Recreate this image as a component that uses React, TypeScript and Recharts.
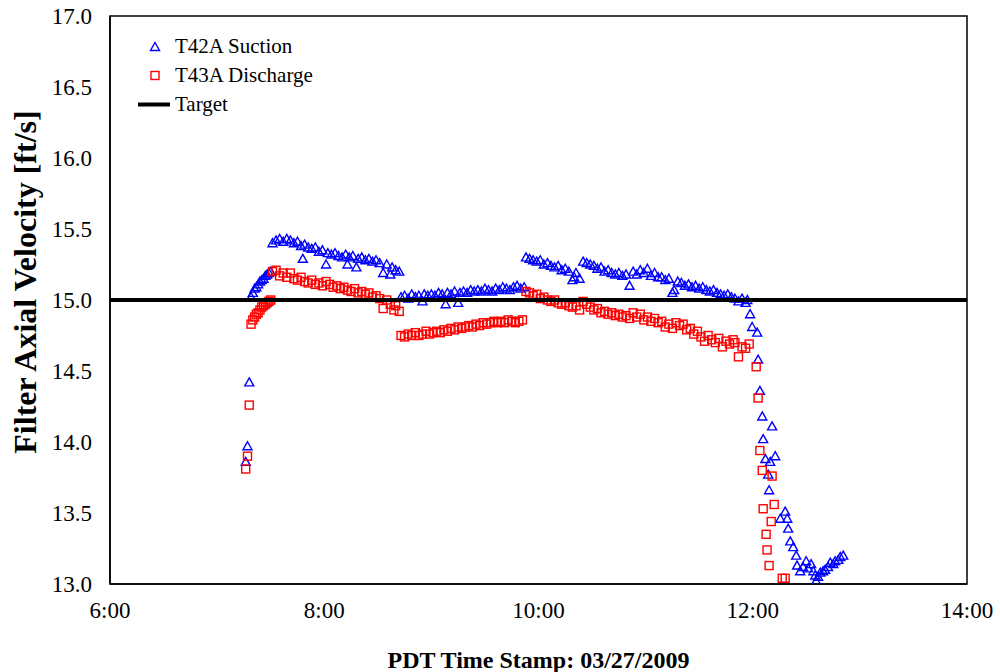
import { ScatterChart, Scatter, XAxis, YAxis, ReferenceArea, Legend } from 'recharts';

// T42A Suction - time stamps (PDT) and filter axial velocity [ft/s]
const suctionTimes = [
  '7:16', '7:17', '7:18', '7:19', '7:20', '7:21', '7:22', '7:23', '7:24', '7:25', '7:26', '7:27', '7:28', '7:29', '7:30',
  '7:31', '7:33', '7:35', '7:37', '7:39', '7:41', '7:43', '7:45', '7:47', '7:48', '7:49', '7:51', '7:53', '7:55', '7:57', '7:59',
  '8:01', '8:02', '8:04', '8:06', '8:08', '8:10', '8:12', '8:13', '8:14', '8:16', '8:18', '8:19', '8:21', '8:23', '8:25', '8:27',
  '8:29', '8:31', '8:33', '8:35', '8:37', '8:38', '8:40', '8:42',
  '8:43', '8:45', '8:47', '8:49', '8:51', '8:53', '8:55', '8:56', '8:58', '9:00', '9:02', '9:04', '9:06', '9:08', '9:09', '9:11',
  '9:13', '9:15', '9:16', '9:18', '9:20', '9:22', '9:24', '9:26', '9:28', '9:30', '9:32', '9:34', '9:36', '9:38', '9:40', '9:42',
  '9:44', '9:46', '9:48', '9:50', '9:52',
  '9:53', '9:55', '9:57', '9:59', '10:01', '10:03', '10:05', '10:07', '10:09', '10:11', '10:13', '10:15', '10:17', '10:19', '10:20',
  '10:21', '10:23', '10:25', '10:27', '10:29', '10:31', '10:33', '10:35', '10:37', '10:39', '10:41', '10:43', '10:45', '10:47', '10:49',
  '10:51', '10:53', '10:55', '10:57', '10:59', '11:01', '11:03', '11:05', '11:07', '11:09', '11:11', '11:13', '11:15', '11:16', '11:18',
  '11:20', '11:22', '11:24', '11:26', '11:28', '11:30', '11:32', '11:34', '11:36', '11:38', '11:40', '11:42', '11:44', '11:46', '11:48',
  '11:50', '11:52', '11:54', '11:56', '11:57',
  '11:58:30', '11:59:40', '12:02:30', '12:03', '12:04', '12:05:20', '12:05:50', '12:07:05', '12:08:40', '12:09:10', '12:09:45',
  '12:10:50', '12:12:35', '12:15:25', '12:18:10', '12:19:20', '12:19:50', '12:21', '12:22:40', '12:24:20', '12:24:50', '12:26:35',
  '12:28:10', '12:29:55', '12:31', '12:32:40', '12:33:55', '12:35', '12:35:30', '12:36:35', '12:37:50', '12:39:25', '12:40:35',
  '12:42:10', '12:43:25', '12:45:05', '12:46:10', '12:47:55', '12:49', '12:50:40',
];
const suctionValues = [
  13.86, 13.97, 14.42, 15.02, 15.05, 15.08, 15.09, 15.11, 15.13, 15.14, 15.15, 15.17, 15.18, 15.19, 15.2,
  15.4, 15.42, 15.43, 15.41, 15.43, 15.42, 15.4, 15.41, 15.38, 15.29, 15.39, 15.37, 15.36, 15.37, 15.34, 15.35,
  15.25, 15.33, 15.32, 15.33, 15.31, 15.3, 15.32, 15.25, 15.3, 15.31, 15.23, 15.29, 15.3, 15.28, 15.29, 15.27,
  15.28, 15.26, 15.19, 15.25, 15.18, 15.23, 15.21, 15.2,
  15.02, 15.03, 15.01, 15.04, 15.02, 15.03, 14.99, 15.04, 15.03, 15.04, 15.03, 15.05, 15.04, 14.97, 15.05, 15.04,
  15.06, 14.98, 15.05, 15.06, 15.05, 15.07, 15.06, 15.07, 15.06, 15.08, 15.07, 15.06, 15.08, 15.07, 15.09, 15.08,
  15.07, 15.09, 15.1, 15.08, 15.09,
  15.3, 15.29, 15.28, 15.27, 15.28, 15.25, 15.26, 15.24, 15.23, 15.24, 15.21, 15.22, 15.2, 15.14, 15.16,
  15.19, 15.15, 15.27, 15.26, 15.25, 15.24, 15.22, 15.23, 15.2, 15.21, 15.19, 15.18, 15.19, 15.17, 15.18,
  15.1, 15.2, 15.18, 15.21, 15.19, 15.22, 15.17, 15.19, 15.16, 15.16, 15.14, 15.15, 15.05, 15.07, 15.13,
  15.12, 15.1, 15.11, 15.09, 15.1, 15.08, 15.09, 15.07, 15.06, 15.07, 15.05, 15.04, 15.03, 15.04, 15.02,
  15.01, 14.99, 15.01, 14.98, 15.0,
  14.9, 14.81, 14.77, 14.58, 14.36, 14.18, 14.02, 13.88, 13.77, 13.66, 13.86,
  14.11, 13.9, 13.46, 13.51, 13.46, 13.39, 13.3, 13.26, 13.2, 13.13, 13.09,
  13.12, 13.16, 13.11, 13.14, 13.09, 13.06, 13.02, 13.05, 13.08, 13.09, 13.1,
  13.12, 13.15, 13.14, 13.16, 13.17, 13.19, 13.2,
];

// T43A Discharge
const dischargeTimes = [
  '7:16', '7:17', '7:18', '7:19', '7:20', '7:21', '7:22', '7:23', '7:24', '7:25', '7:26', '7:27', '7:28', '7:29', '7:30',
  '7:31', '7:33', '7:35', '7:37', '7:39', '7:41', '7:43', '7:45', '7:47', '7:49', '7:51', '7:53', '7:55', '7:57', '7:59',
  '8:01', '8:03', '8:05', '8:07', '8:09', '8:11', '8:13', '8:15', '8:17', '8:19', '8:21', '8:23', '8:25', '8:27', '8:29',
  '8:31', '8:33', '8:35', '8:37', '8:39', '8:40', '8:42',
  '8:43', '8:45', '8:47', '8:49', '8:51', '8:53', '8:55', '8:57', '8:59', '9:01', '9:03', '9:05', '9:07', '9:09', '9:11',
  '9:13', '9:15', '9:17', '9:19', '9:21', '9:23', '9:25', '9:27', '9:29', '9:31', '9:33', '9:35', '9:37', '9:39', '9:41',
  '9:43', '9:45', '9:47', '9:49', '9:51',
  '9:53', '9:55', '9:57', '9:59', '10:01', '10:03', '10:05', '10:07', '10:09', '10:11', '10:13', '10:15', '10:17', '10:19', '10:21',
  '10:23', '10:25', '10:27', '10:29', '10:31', '10:33', '10:35', '10:37', '10:39', '10:41', '10:43', '10:45', '10:47', '10:49', '10:51',
  '10:53', '10:55', '10:57', '10:59', '11:01', '11:03', '11:05', '11:07', '11:09', '11:11', '11:13', '11:15', '11:17', '11:19', '11:21',
  '11:23', '11:25', '11:27', '11:29', '11:31', '11:33', '11:35', '11:37', '11:39', '11:41', '11:43', '11:45', '11:47', '11:49', '11:50',
  '11:52', '11:54', '11:56', '11:58',
  '12:01:55', '12:03', '12:04', '12:05:20', '12:05:50', '12:07:30', '12:08', '12:09:10', '12:10:20', '12:10:50', '12:12',
  '12:16:30', '12:18:10',
];
const dischargeValues = [
  13.81, 13.9, 14.26, 14.83, 14.86, 14.88, 14.9, 14.91, 14.93, 14.95, 14.96, 14.97, 14.98, 14.99, 15.0,
  15.2, 15.21, 15.17, 15.19, 15.16, 15.19, 15.15, 15.14, 15.16, 15.13, 15.12, 15.14, 15.11, 15.12, 15.1,
  15.13, 15.11, 15.09, 15.1, 15.08, 15.09, 15.07, 15.06, 15.08, 15.05, 15.06, 15.04, 15.05, 15.02, 15.03,
  15.01, 14.94, 15.0, 14.97, 14.93, 14.96, 14.92,
  14.75, 14.74, 14.76, 14.75, 14.77, 14.75, 14.76, 14.78, 14.76, 14.77, 14.78, 14.77, 14.79, 14.78, 14.8,
  14.79, 14.81, 14.8, 14.81, 14.82, 14.81, 14.83, 14.82, 14.84, 14.83, 14.84, 14.85, 14.84, 14.85, 14.84,
  14.86, 14.85, 14.84, 14.85, 14.86,
  15.06, 15.05, 15.03, 15.04, 15.01, 15.02, 15.0, 14.99, 15.0, 14.98, 14.97, 14.98, 14.96, 14.95, 14.96,
  14.93, 14.99, 14.97, 14.95, 14.93, 14.94, 14.91, 14.92, 14.9, 14.91, 14.89, 14.9, 14.88, 14.89, 14.87,
  14.91, 14.88, 14.9, 14.86, 14.88, 14.85, 14.87, 14.84, 14.85, 14.81, 14.83, 14.8, 14.84, 14.82, 14.83,
  14.79, 14.8, 14.76, 14.78, 14.74, 14.71, 14.75, 14.72, 14.7, 14.73, 14.67, 14.71, 14.69, 14.72, 14.7,
  14.6, 14.67, 14.66, 14.69,
  14.53, 14.31, 13.94, 13.8, 13.53, 13.35, 13.24, 13.13, 13.44, 13.76, 13.56,
  13.04, 13.04,
];

const targetTimes = ['6:00', '14:00'];
const targetValues = [15.0, 15.0];

const hourTicks = [6, 8, 10, 12, 14];
const halfHourTicks = [6, 6.5, 7, 7.5, 8, 8.5, 9, 9.5, 10, 10.5, 11, 11.5, 12, 12.5, 13, 13.5, 14];
const valueTicks = [13, 13.5, 14, 14.5, 15, 15.5, 16, 16.5, 17];
const minorValueTicks = Array.from({ length: 41 }, (_, i) => 13 + i * 0.1);

const FONT = "'Liberation Serif', 'Times New Roman', serif";

const toHours = (t: string) => {
  const [h, m, s = '0'] = t.split(':');
  return Number(h) + Number(m) / 60 + Number(s) / 3600;
};
const zip = (times: string[], values: number[]) => times.map((t, i) => ({ time: toHours(t), value: values[i] }));

const suctionData = zip(suctionTimes, suctionValues);
const dischargeData = zip(dischargeTimes, dischargeValues);
const targetData = zip(targetTimes, targetValues);

const Triangle = (props: any) => {
  const { cx, cy } = props;
  return (
    <polygon
      points={`${cx},${cy - 4.5} ${cx + 4.5},${cy + 3.5} ${cx - 4.5},${cy + 3.5}`}
      fill="none"
      stroke="#0000FF"
      strokeWidth={1.4}
    />
  );
};

const Square = (props: any) => {
  const { cx, cy } = props;
  return <rect x={cx - 4} y={cy - 4} width={8} height={8} fill="none" stroke="#FF0000" strokeWidth={1.4} />;
};

const NoDot = () => <g />;

const legendItems = [
  { name: 'T42A Suction', kind: 'triangle' },
  { name: 'T43A Discharge', kind: 'square' },
  { name: 'Target', kind: 'line' },
];

const renderLegend = () => (
  <div style={{ fontFamily: FONT, fontSize: 21, color: '#000' }}>
    {legendItems.map((item) => (
      <div key={item.name} style={{ display: 'flex', alignItems: 'center', height: 29 }}>
        <svg width={45} height={29}>
          {item.kind === 'triangle' && <Triangle cx={25} cy={15} />}
          {item.kind === 'square' && <Square cx={25} cy={14.5} />}
          {item.kind === 'line' && <line x1={8} x2={40} y1={14.5} y2={14.5} stroke="#000" strokeWidth={4} />}
        </svg>
        <span style={{ whiteSpace: 'nowrap' }}>{item.name}</span>
      </div>
    ))}
  </div>
);

const YTitle = () => (
  <text
    x={25}
    y={282}
    transform="rotate(-90 25 282)"
    textAnchor="middle"
    dominantBaseline="central"
    fontFamily={FONT}
    fontSize={32}
    fontWeight="bold"
    fill="#000"
  >
    Filter Axial Velocity [ft/s]
  </text>
);

const XTitle = () => (
  <text x={538.5} y={668} textAnchor="middle" fontFamily={FONT} fontSize={24} fontWeight="bold" fill="#000">
    PDT Time Stamp: 03/27/2009
  </text>
);

const tickStyle = { fill: '#000', fontSize: 23, fontFamily: FONT };

export default function App() {
  return (
    <div style={{ position: 'absolute', left: 0, top: 0, width: 1000, height: 672, background: '#fff' }}>
      <ScatterChart width={1000} height={672} margin={{ top: 16, right: 33, bottom: 12, left: 40 }}>
        <XAxis
          xAxisId="x"
          type="number"
          dataKey="time"
          domain={[6, 14]}
          ticks={hourTicks}
          allowDataOverflow
          tickFormatter={(h: number) => `${h}:00`}
          tickLine={false}
          tickSize={6}
          tickMargin={12}
          axisLine={{ stroke: '#000', strokeWidth: 1.5 }}
          tick={tickStyle}
          height={76}
          label={<XTitle />}
        />
        <XAxis
          xAxisId="xMinor"
          type="number"
          domain={[6, 14]}
          ticks={halfHourTicks}
          allowDataOverflow
          mirror
          tick={false}
          axisLine={false}
          tickLine={{ stroke: '#000', strokeWidth: 1 }}
          tickSize={6}
        />
        <YAxis
          yAxisId="y"
          type="number"
          dataKey="value"
          domain={[13, 17]}
          ticks={valueTicks}
          allowDataOverflow
          tickFormatter={(v: number) => v.toFixed(1)}
          tickLine={false}
          tickSize={6}
          tickMargin={12}
          axisLine={{ stroke: '#000', strokeWidth: 1.5 }}
          tick={tickStyle}
          width={70}
          label={<YTitle />}
        />
        <YAxis
          yAxisId="yMinor"
          type="number"
          domain={[13, 17]}
          ticks={minorValueTicks}
          allowDataOverflow
          mirror
          tick={false}
          axisLine={false}
          tickLine={{ stroke: '#000', strokeWidth: 1 }}
          tickSize={6}
        />
        <ReferenceArea
          xAxisId="x"
          yAxisId="y"
          x1={6}
          x2={14}
          y1={13}
          y2={17}
          fill="none"
          stroke="#000"
          strokeWidth={1.5}
        />
        <Legend
          layout="vertical"
          align="center"
          verticalAlign="middle"
          content={renderLegend}
          wrapperStyle={{ left: 130, top: 32, width: 'auto' }}
        />
        <Scatter
          name="T42A Suction"
          data={suctionData}
          xAxisId="x"
          yAxisId="y"
          shape={<Triangle />}
          isAnimationActive={false}
        />
        <Scatter
          name="T43A Discharge"
          data={dischargeData}
          xAxisId="x"
          yAxisId="y"
          shape={<Square />}
          isAnimationActive={false}
        />
        <Scatter
          name="Target"
          data={targetData}
          xAxisId="x"
          yAxisId="y"
          line={{ stroke: '#000', strokeWidth: 4 }}
          shape={<NoDot />}
          isAnimationActive={false}
        />
      </ScatterChart>
    </div>
  );
}
